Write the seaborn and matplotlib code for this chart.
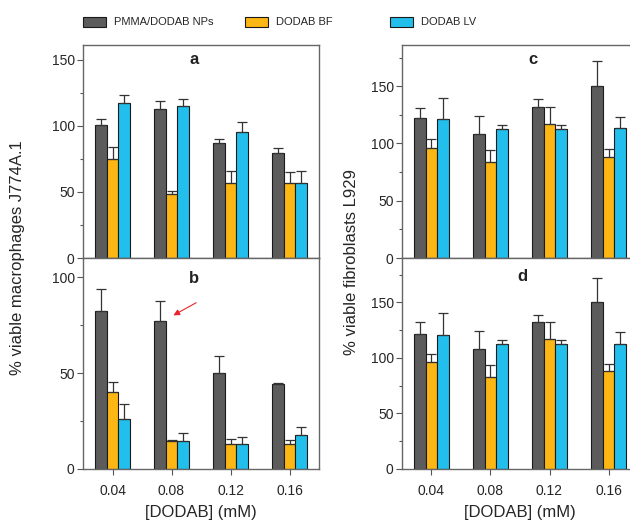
import numpy as np
import pandas as pd
import seaborn as sns
import matplotlib.pyplot as plt
from matplotlib.patches import Patch
from matplotlib.ticker import MultipleLocator

sns.set_theme(style="ticks")
plt.rcParams['font.family'] = ['Liberation Sans', 'DejaVu Sans']

conc = ["0.04", "0.08", "0.12", "0.16"]
groups = ["PMMA/DODAB NPs", "DODAB BF", "DODAB LV"]
colors = ["#5c5c5c", "#fdb714", "#22bfec"]

# panel a - macrophages J774A.1 (means, upper SD)
a_nps = [100.5, 112.5, 87, 79]
a_nps_sd = [4.5, 6, 3, 4]
a_bf = [75, 48, 57, 57]
a_bf_sd = [9, 3, 9, 8]
a_lv = [117, 115, 95, 57]
a_lv_sd = [6.5, 5, 7.5, 9]

# panel b - macrophages J774A.1
b_nps = [82.3, 77.4, 50.1, 44.2]
b_nps_sd = [11.6, 10.3, 8.7, 0.8]
b_bf = [40.3, 14.4, 12.9, 12.9]
b_bf_sd = [5.3, 0.9, 2.6, 2.2]
b_lv = [25.9, 14.4, 13.2, 17.6]
b_lv_sd = [8, 4.2, 3.3, 4.1]

# panel c - fibroblasts L929
c_nps = [121.9, 108.5, 131.8, 150.1]
c_nps_sd = [9.3, 15.7, 7.2, 21.9]
c_bf = [95.9, 83.4, 117.2, 88.3]
c_bf_sd = [8.1, 11.1, 14.8, 7.3]
c_lv = [121.3, 112.5, 112.5, 113.4]
c_lv_sd = [18.7, 3.5, 3.5, 9.9]

# panel d - fibroblasts L929 (same measurements as c)
d_nps = [121.7, 108.2, 132, 150]
d_nps_sd = [10.3, 15.8, 6.8, 22]
d_bf = [96, 83, 117, 88]
d_bf_sd = [7.6, 11, 15, 7]
d_lv = [121, 112.5, 112.5, 113]
d_lv_sd = [19.7, 3.5, 3.5, 10]


def panel(ax, means, sds, ylim, major, letter, lx, ly, bottom):
    df = pd.DataFrame({
        "conc": conc * 3,
        "group": np.repeat(groups, len(conc)),
        "val": np.concatenate(means),
    })
    sns.barplot(data=df, x="conc", y="val", hue="group", hue_order=groups,
                palette=colors, saturation=1, width=0.6, errorbar=None,
                edgecolor="#1a1a1a", linewidth=0.8, legend=False, ax=ax)
    for cont, sd in zip(ax.containers, sds):
        xs = [b.get_x() + b.get_width() / 2 for b in cont]
        ys = [b.get_height() for b in cont]
        ax.errorbar(xs, ys, yerr=[np.zeros(len(sd)), sd], fmt='none',
                    ecolor="#333333", elinewidth=0.9, capsize=3.5, capthick=0.9)
    ax.set_xlim(-0.5, 3.5)
    ax.set_ylim(*ylim)
    ax.yaxis.set_major_locator(MultipleLocator(major))
    ax.yaxis.set_minor_locator(MultipleLocator(25))
    ax.tick_params(axis='both', which='major', direction='out', length=4,
                   width=0.8, color='#555555', labelsize=10, pad=2)
    ax.tick_params(axis='x', which='major', pad=7)
    ax.tick_params(axis='y', which='minor', direction='out', length=2.5,
                   width=0.8, color='#555555')
    ax.set_ylabel("")
    if bottom:
        ax.set_xlabel("[DODAB] (mM)", fontsize=12, labelpad=5)
    else:
        ax.set_xlabel("")
        ax.set_xticklabels([])
    for s in ax.spines.values():
        s.set_color('#666666')
        s.set_linewidth(1.0)
    ax.text(lx, ly, letter, transform=ax.transAxes, ha='center', va='center',
            fontsize=12, fontweight='bold', color='#222222')


fig = plt.figure(figsize=(6.3, 5.21), dpi=100)
W, H = 630, 521
lw = 236 / W
top_b, top_h = (H - 258) / H, 213 / H
bot_b, bot_h = (H - 469) / H, 211 / H

ax_a = fig.add_axes([83 / W, top_b, lw, top_h])
ax_b = fig.add_axes([83 / W, bot_b, lw, bot_h])
ax_c = fig.add_axes([402 / W, top_b, lw, top_h])
ax_d = fig.add_axes([402 / W, bot_b, lw, bot_h])

panel(ax_a, [a_nps, a_bf, a_lv], [a_nps_sd, a_bf_sd, a_lv_sd], (0, 161), 50, "a", 0.47, 0.93, False)
panel(ax_b, [b_nps, b_bf, b_lv], [b_nps_sd, b_bf_sd, b_lv_sd], (0, 110), 50, "b", 0.47, 0.905, True)
panel(ax_c, [c_nps, c_bf, c_lv], [c_nps_sd, c_bf_sd, c_lv_sd], (0, 186), 50, "c", 0.555, 0.93, False)
panel(ax_d, [d_nps, d_bf, d_lv], [d_nps_sd, d_bf_sd, d_lv_sd], (0, 190), 50, "d", 0.51, 0.91, True)

# red arrow pointing at the 0.08 NPs bar in panel b
bar = ax_b.containers[0][1]
tip_x = bar.get_x() + bar.get_width() + 0.09
tip_y = bar.get_height() + 2
ax_b.annotate("", xy=(tip_x, tip_y), xytext=(tip_x + 0.47, tip_y + 8),
              arrowprops=dict(arrowstyle='-|>', color='#e8262a', lw=0.8,
                              mutation_scale=9))

fig.text(18 / W, (H - 258) / H, "% viable macrophages J774A.1", rotation=90,
         ha='center', va='center', fontsize=12)
fig.text(352 / W, (H - 262) / H, "% viable fibroblasts L929", rotation=90,
         ha='center', va='center', fontsize=12)

# legend entries placed one by one along the top
leg_x = [83, 245, 390]
for name, col, x0 in zip(groups, colors, leg_x):
    h = Patch(facecolor=col, edgecolor="#1a1a1a", linewidth=0.8)
    fig.legend([h], [name], loc='center left', bbox_to_anchor=(x0 / W, (H - 22) / H),
               frameon=False, fontsize=8, handlelength=2.1, handleheight=1.0,
               handletextpad=0.7, borderpad=0, borderaxespad=0)

fig.savefig("out.png", dpi=100)
